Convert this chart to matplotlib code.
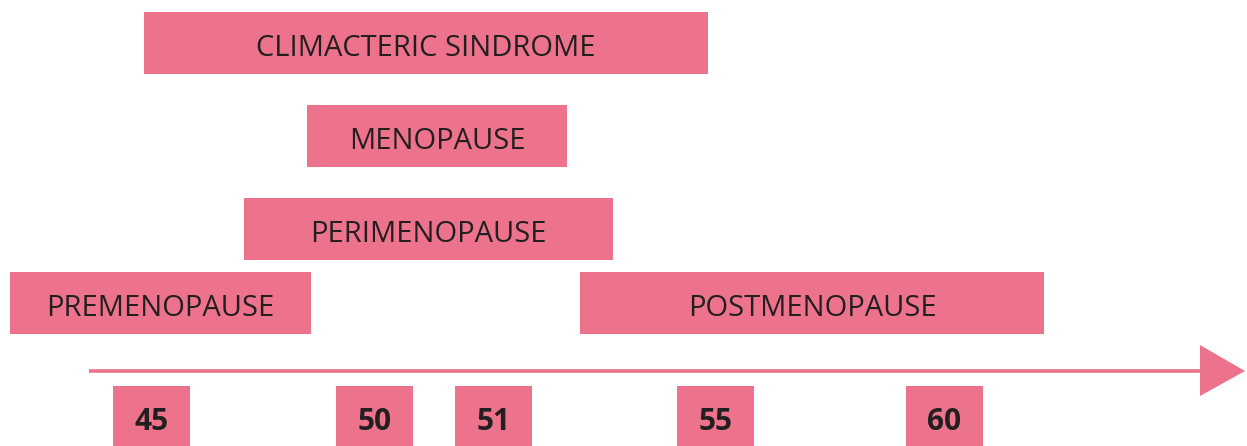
import matplotlib
matplotlib.use("Agg")
import matplotlib.pyplot as plt
from matplotlib.patches import Rectangle, Polygon

# ---- data ----
phases = ["CLIMACTERIC SINDROME", "MENOPAUSE", "PERIMENOPAUSE", "PREMENOPAUSE", "POSTMENOPAUSE"]
phase_start = [144, 307, 244, 10, 580]
phase_end = [708, 567, 613, 311, 1044]
phase_row = [43, 136, 229, 303, 303]
ages = ["45", "50", "51", "55", "60"]
age_pos = [151.5, 374.5, 493.5, 715.5, 944.5]

PINK = "#ED738D"
DARK = "#231F20"

W, H = 1247, 446
fig = plt.figure(figsize=(W / 100, H / 100), dpi=100)
ax = fig.add_axes([0, 0, 1, 1])
ax.set_xlim(0, W)
ax.set_ylim(H, 0)
ax.axis("off")

font = ["Open Sans", "DejaVu Sans"]

bar_h = 62
widths = [e - s for s, e in zip(phase_start, phase_end)]
ax.barh(phase_row, widths, left=phase_start, height=bar_h, color=PINK, edgecolor="none")
for name, s, e, r in zip(phases, phase_start, phase_end, phase_row):
    ax.text((s + e) / 2, r + 13, name, ha="center", va="baseline",
            fontsize=21, color=DARK, family=font)

# timeline arrow
ax.plot([89, 1202], [371, 371], color=PINK, lw=2.6, solid_capstyle="butt")
ax.add_patch(Polygon([[1200, 345], [1245, 371], [1200, 396]], closed=True,
                     facecolor=PINK, edgecolor="none"))

# age boxes
box_w, box_h = 77, 60
for a, p in zip(ages, age_pos):
    ax.add_patch(Rectangle((p - box_w / 2, 386), box_w, box_h, facecolor=PINK, edgecolor="none"))
    ax.text(p, 430, a, ha="center", va="baseline", fontsize=21.5, fontweight="bold",
            color=DARK, family=font)

fig.savefig("out.png", dpi=100)
